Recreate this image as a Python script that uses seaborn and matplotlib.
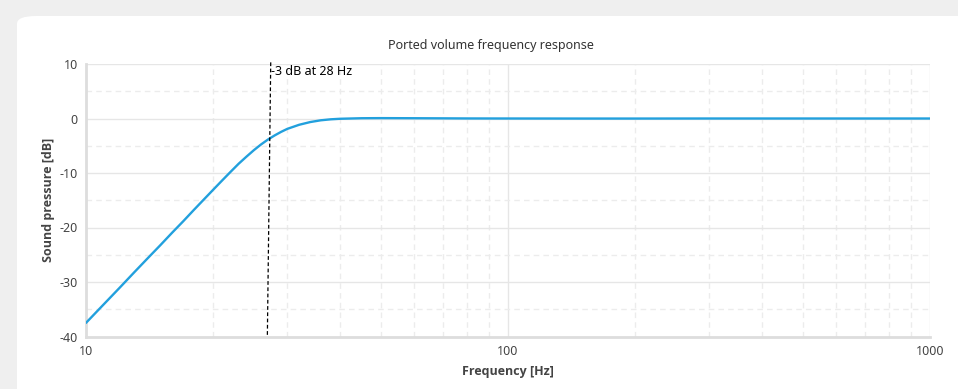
import matplotlib
matplotlib.use("Agg")
import matplotlib.pyplot as plt
import matplotlib.ticker as mticker
from matplotlib.patches import FancyBboxPatch
import pandas as pd
import seaborn as sns

# Ported box response (frequency in Hz, level in dB)
freq_hz = [10, 11, 12, 13, 14, 15, 16, 17, 18, 19, 20, 21, 22, 23, 24, 25, 26,
           27, 28, 29, 30, 32, 34, 36, 38, 40, 45, 50, 60, 70, 80, 100, 150,
           200, 300, 500, 700, 1000]
spl_db = [-37.5, -34.15, -31.1, -28.25, -25.65, -23.25, -20.95, -18.85,
          -16.8, -14.9, -13.1, -11.4, -9.8, -8.3, -7.0, -5.8, -4.75, -3.85,
          -3.1, -2.45, -1.9, -1.15, -0.65, -0.33, -0.15, -0.05, 0.05, 0.07,
          0.05, 0.03, 0.01, 0.0, -0.01, -0.01, 0.0, 0.0, 0.0, 0.0]

# -3 dB marker (drawn slightly slanted as in the reference)
marker_x = [27.4, 26.9]
marker_y = [10.3, -40]
marker_label = "-3 dB at 28 Hz"

x_ticks = [10, 100, 1000]
y_ticks = [-40, -30, -20, -10, 0, 10]

df = pd.DataFrame({"freq": freq_hz, "spl": spl_db})

sns.set_style("white")
plt.rcParams["font.family"] = ["Noto Sans", "DejaVu Sans"]
plt.rcParams["axes.unicode_minus"] = False

W, H = 958, 389
fig = plt.figure(figsize=(W / 100, H / 100), dpi=100)
fig.patch.set_facecolor("#efefef")
panel = FancyBboxPatch((17 / W, -0.1), 1.2, (H - 16) / H + 0.1,
                       boxstyle="round,pad=0,rounding_size=0.02",
                       transform=fig.transFigure, facecolor="white",
                       edgecolor="none", zorder=-5)
fig.patches.append(panel)

ax = fig.add_axes([86 / W, 1 - 336.5 / H, (930 - 86) / W, (336.5 - 64) / H])
ax.set_facecolor("none")
ax.set_zorder(1)

sns.lineplot(data=df, x="freq", y="spl", ax=ax, color="#22a0dd",
             linewidth=1.7, zorder=3)
ax.plot(marker_x, marker_y, color="black", linestyle=(0, (3, 2)),
        linewidth=0.9, zorder=4, clip_on=False)
ax.text(marker_x[0], 8.6, marker_label, fontsize=9, color="black",
        ha="left", va="center", zorder=5)

ax.set_xscale("log")
ax.set_xlim(10, 1000)
ax.set_ylim(-40, 10)
ax.set_xticks(x_ticks)
ax.xaxis.set_major_formatter(mticker.FuncFormatter(lambda v, p: f"{v:g}"))
ax.xaxis.set_minor_locator(mticker.LogLocator(base=10, subs=range(2, 10)))
ax.xaxis.set_minor_formatter(mticker.NullFormatter())
ax.set_yticks(y_ticks)
ax.yaxis.set_minor_locator(mticker.MultipleLocator(5))

ax.grid(which="major", color="#e6e6e6", linewidth=1, linestyle="-")
ax.grid(which="minor", color="#ececec", linewidth=1, linestyle=(0, (4, 3)))
ax.set_axisbelow(True)

for side in ["top", "right"]:
    ax.spines[side].set_visible(False)
for side in ["left", "bottom"]:
    ax.spines[side].set_color("#dddddd")
    ax.spines[side].set_linewidth(2)

ax.tick_params(axis="both", which="major", length=4, width=1, color="#dddddd",
               labelsize=9, labelcolor="#444444", pad=2)
ax.tick_params(axis="both", which="minor", length=0)

label_font = ["Open Sans", "DejaVu Sans"]
ax.set_xlabel("Frequency [Hz]", fontsize=9, fontweight="bold", color="#444444",
              family=label_font, labelpad=5)
ax.set_ylabel("Sound pressure [dB]", fontsize=9, fontweight="bold",
              color="#444444", family=label_font)
ax.yaxis.set_label_coords(-0.037, 0.5)

fig.text(491 / W, 1 - 45 / H, "Ported volume frequency response", fontsize=9,
         color="#333333", ha="center", va="center")

fig.savefig("out.png", dpi=100, facecolor=fig.get_facecolor())
